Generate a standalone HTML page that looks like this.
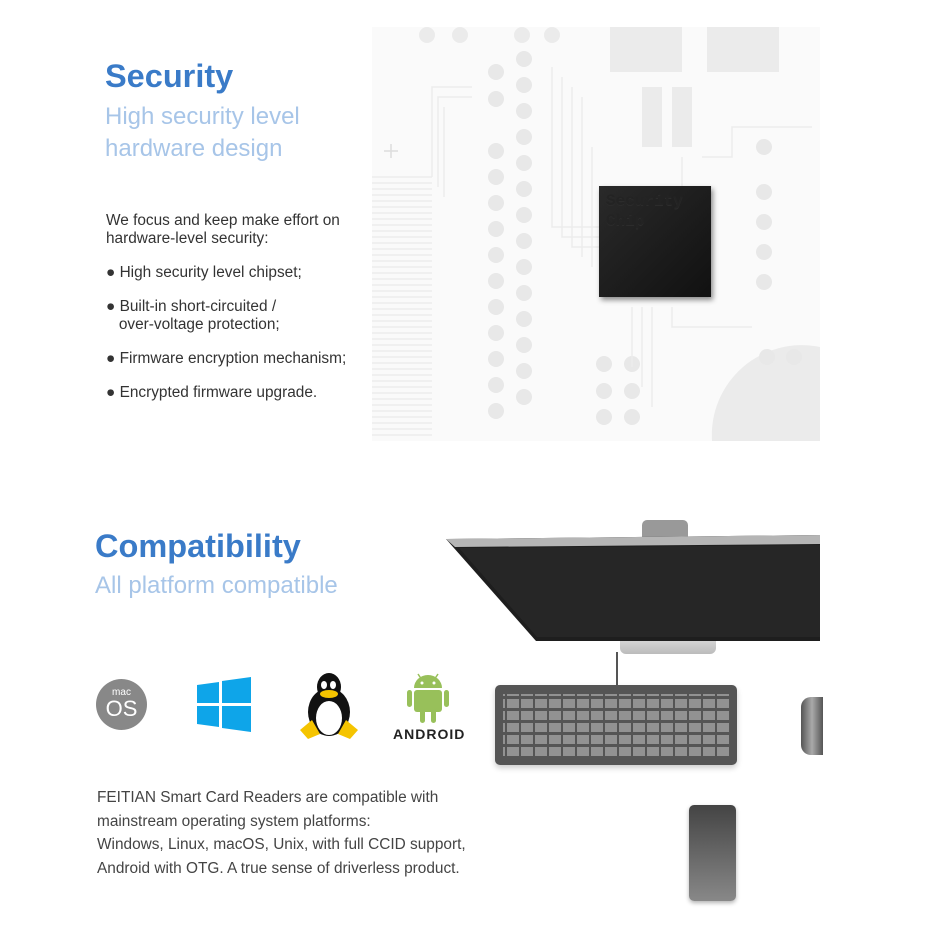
<!DOCTYPE html>
<html><head><meta charset="utf-8"><style>
body{margin:0;width:928px;height:928px;background:#fff;position:relative;overflow:hidden;font-family:"Liberation Sans",sans-serif}
.a{position:absolute;white-space:nowrap}
.h{color:#3a7bc8;font-size:32.5px;font-weight:bold}
.s{color:#a7c5e8;font-size:24px}
.t{color:#333;font-size:15.4px}
</style></head><body>
<svg class="a" style="left:372px;top:27px" width="448" height="414" viewBox="0 0 448 414">
<rect width="448" height="414" fill="#fafafa"/>
<g fill="#ebebeb">
<rect x="238" y="0" width="72" height="45"/><rect x="335" y="0" width="72" height="45"/>
<rect x="270" y="60" width="20" height="60"/><rect x="300" y="60" width="20" height="60"/>
<circle cx="55" cy="8" r="8"/><circle cx="88" cy="8" r="8"/><circle cx="150" cy="8" r="8"/><circle cx="180" cy="8" r="8"/>
<path d="M340 414 A90 90 0 0 1 448 320 L448 414 Z"/>
</g>
<g fill="#e8e8e8">
<circle cx="124" cy="45" r="8"/><circle cx="152" cy="32" r="8"/><circle cx="124" cy="72" r="8"/><circle cx="152" cy="58" r="8"/>
<circle cx="152" cy="84" r="8"/><circle cx="152" cy="110" r="8"/><circle cx="124" cy="124" r="8"/><circle cx="152" cy="136" r="8"/>
<circle cx="124" cy="150" r="8"/><circle cx="152" cy="162" r="8"/><circle cx="124" cy="176" r="8"/><circle cx="152" cy="188" r="8"/>
<circle cx="124" cy="202" r="8"/><circle cx="152" cy="214" r="8"/><circle cx="124" cy="228" r="8"/><circle cx="152" cy="240" r="8"/>
<circle cx="124" cy="254" r="8"/><circle cx="152" cy="266" r="8"/><circle cx="124" cy="280" r="8"/><circle cx="152" cy="292" r="8"/>
<circle cx="124" cy="306" r="8"/><circle cx="152" cy="318" r="8"/><circle cx="124" cy="332" r="8"/><circle cx="152" cy="344" r="8"/>
<circle cx="124" cy="358" r="8"/><circle cx="152" cy="370" r="8"/><circle cx="124" cy="384" r="8"/>
<circle cx="232" cy="337" r="8"/><circle cx="260" cy="337" r="8"/><circle cx="232" cy="364" r="8"/><circle cx="260" cy="364" r="8"/><circle cx="232" cy="390" r="8"/><circle cx="260" cy="390" r="8"/>
<circle cx="392" cy="120" r="8"/><circle cx="392" cy="165" r="8"/><circle cx="392" cy="195" r="8"/><circle cx="392" cy="225" r="8"/><circle cx="392" cy="255" r="8"/><circle cx="395" cy="330" r="8"/><circle cx="422" cy="330" r="8"/>
</g>
<g stroke="#ececec" stroke-width="1.5">
<path d="M0 150H60M0 156H60M0 162H60M0 168H60M0 174H60M0 180H60M0 186H60M0 192H60M0 198H60M0 204H60M0 210H60M0 216H60M0 222H60M0 228H60M0 234H60M0 240H60M0 246H60M0 252H60M0 258H60M0 264H60M0 270H60M0 276H60M0 282H60M0 288H60M0 294H60M0 300H60M0 306H60M0 312H60M0 318H60M0 324H60M0 330H60M0 336H60M0 342H60M0 348H60M0 354H60M0 360H60M0 366H60M0 372H60M0 378H60M0 384H60M0 390H60M0 396H60M0 402H60M0 408H60"/>
<path d="M60 150V60H100M66 160V70H100M72 170V80M180 40V200H228M190 50V210H228M200 60V220H228M210 70V230M220 120V240M260 280V340M270 280V360M280 280V380M300 280V300H380M310 130V160H340M330 130H360V100H440" fill="none"/>
<path d="M12 124H26M19 117V131" stroke="#ddd"/>
</g>
</svg>
<div class="a" style="left:599px;top:186px;width:112px;height:111px;background:linear-gradient(135deg,#2a2a2a,#111);box-shadow:2px 3px 5px rgba(0,0,0,.45);font-family:'Liberation Mono',monospace;font-weight:bold;color:#232323;font-size:16px;line-height:20px;padding:5px 7px;box-sizing:border-box;text-shadow:0 1px 0 #2c2c2c">Security<br>Chip</div>

<div class="a h" style="left:105px;top:58px">Security</div>
<div class="a s" style="left:105px;top:101px;line-height:32px">High security level<br>hardware design</div>
<div class="a t" style="left:106px;top:212px;line-height:18px">We focus and keep make effort on<br>hardware-level security:</div>
<div class="a t" style="left:106px;top:264px">● High security level chipset;</div>
<div class="a t" style="left:106px;top:298px;line-height:18px">● Built-in short-circuited /<br>&nbsp;&nbsp;&nbsp;over-voltage protection;</div>
<div class="a t" style="left:106px;top:350px">● Firmware encryption mechanism;</div>
<div class="a t" style="left:106px;top:384px">● Encrypted firmware upgrade.</div>

<div class="a h" style="left:95px;top:528px">Compatibility</div>
<div class="a s" style="left:95px;top:572px">All platform compatible</div>
<div class="a" style="left:96px;top:679px;width:51px;height:51px;border-radius:50%;background:#888;color:#fff;text-align:center">
<div style="font-size:10px;margin-top:9px;line-height:10px">mac</div><div style="font-size:22px;line-height:22px">OS</div></div>
<svg class="a" style="left:197px;top:677px" width="55" height="55"><g fill="#0ea5e9"><path d="M0 8L22 5V26H0Z M25 4L54 0V26H25Z M0 29H22V50L0 47Z M25 29H54V55L25 51Z"/></g></svg>
<svg class="a" style="left:298px;top:670px" width="62" height="72">
<ellipse cx="31" cy="42" rx="21" ry="24" fill="#111"/><ellipse cx="31" cy="48" rx="13" ry="17" fill="#fff"/>
<ellipse cx="31" cy="17" rx="12" ry="14" fill="#111"/><ellipse cx="26" cy="15" rx="3" ry="4" fill="#fff"/><ellipse cx="35" cy="15" rx="3" ry="4" fill="#fff"/>
<ellipse cx="31" cy="24" rx="9" ry="4" fill="#f5c400"/>
<path d="M2 60L14 50L22 64L10 69Z M60 60L48 50L40 64L52 69Z" fill="#f5c400"/></svg>
<svg class="a" style="left:405px;top:672px" width="46" height="52" fill="#98c05a">
<path d="M9 16A14 13 0 0 1 37 16Z"/><rect x="9" y="18" width="28" height="22" rx="3"/><rect x="2" y="18" width="5" height="17" rx="2.5"/><rect x="39" y="18" width="5" height="17" rx="2.5"/><rect x="15" y="36" width="5" height="15" rx="2.5"/><rect x="26" y="36" width="5" height="15" rx="2.5"/>
<path d="M13 2L17 8M33 2L29 8" stroke="#98c05a" stroke-width="1.5"/><circle cx="17" cy="11" r="1.5" fill="#fff"/><circle cx="29" cy="11" r="1.5" fill="#fff"/></svg>
<div class="a" style="left:393px;top:726px;font-size:14px;font-weight:bold;letter-spacing:1px;color:#222">ANDROID</div>

<div class="a t" style="left:97px;top:786px;line-height:23.5px;color:#444">FEITIAN Smart Card Readers are compatible with<br>mainstream operating system platforms:<br>Windows, Linux, macOS, Unix, with full CCID support,<br>Android with OTG. A true sense of driverless product.</div>

<div class="a" style="left:642px;top:520px;width:46px;height:20px;background:#999;border-radius:5px 5px 0 0"></div>
<div class="a" style="left:620px;top:636px;width:96px;height:18px;background:linear-gradient(#ddd,#bbb);border-radius:0 0 6px 6px"></div>
<div class="a" style="left:616px;top:652px;width:2px;height:34px;background:#555"></div>
<svg class="a" style="left:445px;top:534px" width="375" height="110">
<path d="M1 5L375 1V107L91 107Z" fill="#1e1e1e"/><path d="M1 5L375 1V10L10 13Z" fill="#b5b5b5"/>
<path d="M14 14L375 11V103L92 103Z" fill="#262626"/></svg>
<div class="a" style="left:495px;top:685px;width:242px;height:80px;background:#555;border-radius:5px;box-shadow:0 3px 6px rgba(0,0,0,.2)"></div>
<div class="a" style="left:503px;top:694px;width:226px;height:62px;background-image:repeating-linear-gradient(90deg,transparent 0 2px,#555 2px 4px,transparent 4px 14px),repeating-linear-gradient(0deg,#999 0 9px,#555 9px 12px);opacity:.9"></div>
<div class="a" style="left:801px;top:697px;width:22px;height:58px;background:linear-gradient(90deg,#555,#aaa,#555);border-radius:10px 0 0 10px"></div>
<div class="a" style="left:689px;top:805px;width:47px;height:96px;background:linear-gradient(#444,#888);border-radius:5px;box-shadow:0 2px 4px rgba(0,0,0,.3)"></div>
</body></html>
